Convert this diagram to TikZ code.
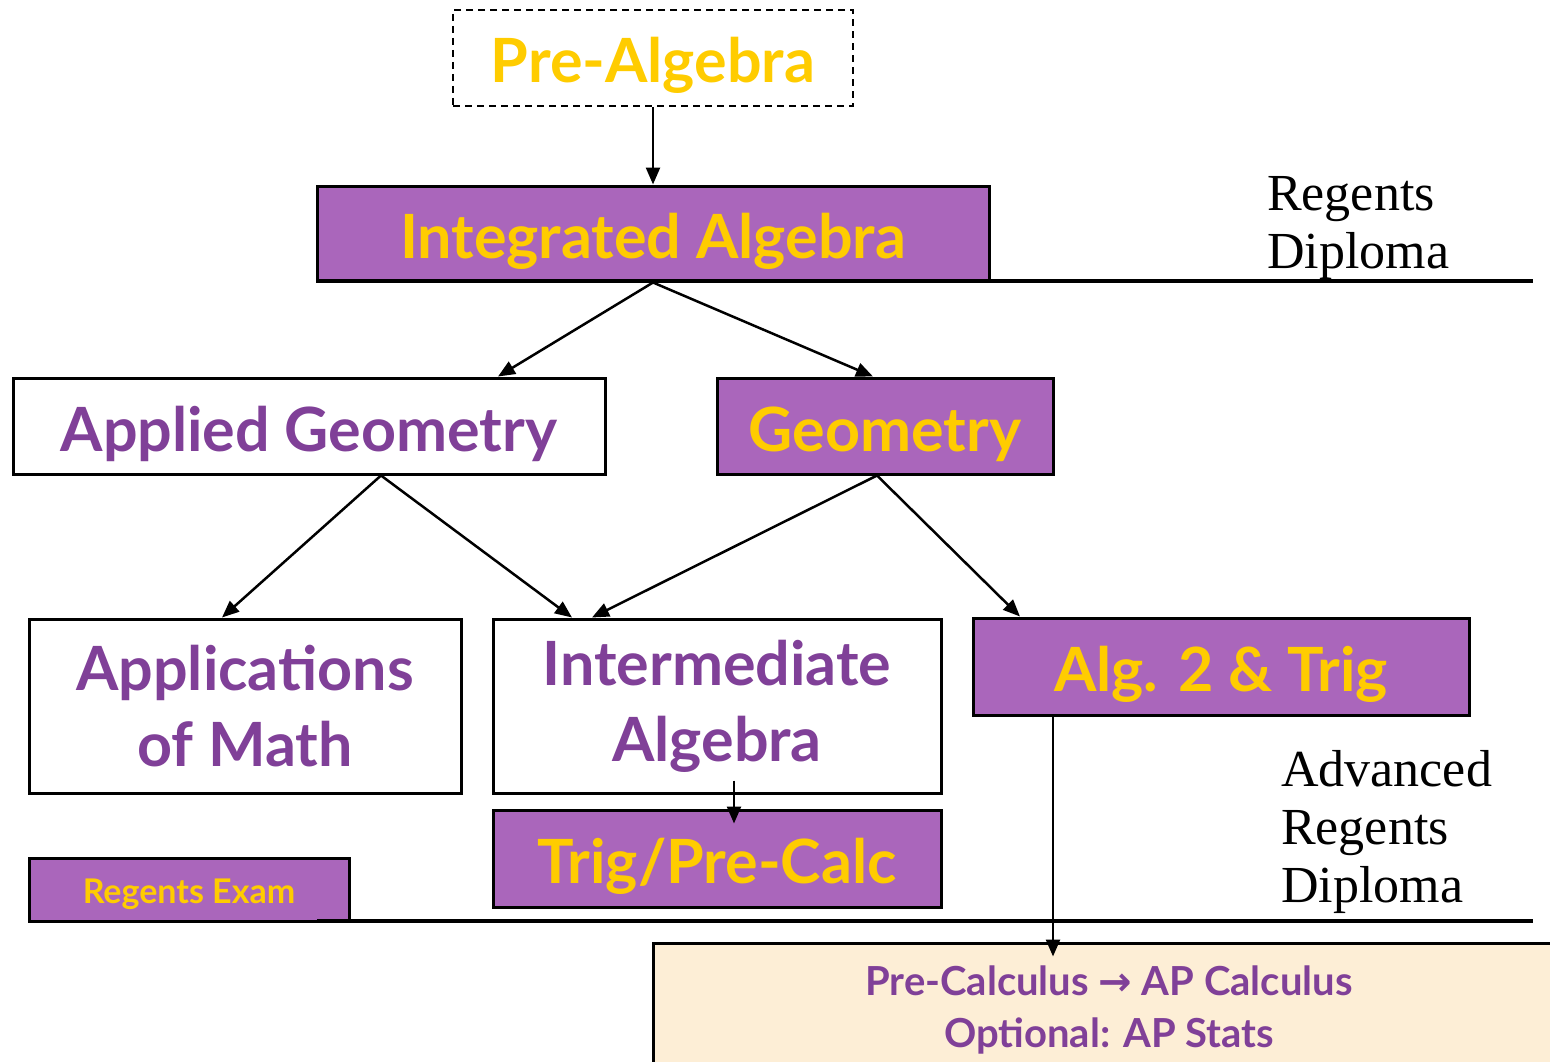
\documentclass[tikz,border=0pt]{standalone}
\usepackage{fontspec}
\setmainfont{Lato}
\newfontfamily\serifdip{Liberation Serif}
\newfontfamily\arrowfont{DejaVu Sans}
\usetikzlibrary{arrows.meta,calc}
\definecolor{boxpurple}{RGB}{170,102,187}
\definecolor{txtyellow}{RGB}{255,204,0}
\definecolor{txtpurple}{RGB}{128,64,152}
\definecolor{beige}{RGB}{253,238,214}
\begin{document}
\begin{tikzpicture}[x=1pt,y=-1pt,
  course/.style={draw=black,line width=3pt,font=\bfseries\fontsize{61}{76}\selectfont,align=center,inner sep=0pt},
  oneline/.style={text height=50pt,text depth=0pt},
  filled/.style={course,fill=boxpurple,text=txtyellow},
  open/.style={course,fill=white,text=txtpurple},
  link/.style={line width=2.5pt,-{Triangle[length=17pt,width=14pt]}},
  divider/.style={line width=4.5pt},
  diploma/.style={font=\serifdip\fontsize{52}{58}\selectfont,align=left,inner sep=0pt,anchor=north west}]
\useasboundingbox (0,0) rectangle (1550,1062);

% boxes
\node[course,oneline,dashed,dash pattern=on 7pt off 5pt,line width=2.5pt,text=txtyellow,minimum width=400pt,minimum height=96pt] (pre) at (653,58) {Pre-Algebra};
\node[filled,oneline,minimum width=672pt,minimum height=95pt] (ia) at (653,233.5) {Integrated Algebra};
\node[open,oneline,minimum width=592pt,minimum height=96pt] (ag) at (309,426) {Applied Geometry};
\node[filled,oneline,minimum width=336pt,minimum height=96pt] (geo) at (885,426) {Geometry};
\node[open,minimum width=432pt,minimum height=174pt] (aom) at (245,706) {Applications\\of Math};
\node[open,minimum width=448pt,minimum height=174pt] (inter) at (717,706) {Intermediate\\Algebra};
\node[filled,oneline,minimum width=496pt,minimum height=97pt] (alg2) at (1221,666.5) {Alg. 2 \& Trig};
\node[filled,oneline,minimum width=448pt,minimum height=97pt] (trig) at (717,858.5) {Trig/Pre-Calc};
\node[filled,font=\bfseries\fontsize{34}{42}\selectfont,text height=27pt,text depth=0pt,minimum width=320pt,minimum height=63pt] (rex) at (189,889.5) {Regents Exam};
\node[course,fill=beige,text=txtpurple,font=\bfseries\fontsize{40}{52}\selectfont,minimum width=912pt,minimum height=134pt] (ap) at (1109,1010) {Pre-Calculus {\arrowfont\bfseries →} AP Calculus\\Optional: AP Stats};

% dividers
\coordinate (d1a) at (317,281);
\coordinate (d1b) at (1533,281);
\coordinate (d2a) at (317,921);
\coordinate (d2b) at (1533,921);
\draw[divider] (d1a) -- (d1b);
\draw[divider] (d2a) -- (d2b);

% diploma labels
\node[diploma] (rd) at (1267,176) {Regents\\Diploma};
\node[diploma] (ard) at (1281,750) {Advanced\\Regents\\Diploma};

% connectors
\draw[link] (pre.south) -- (ia.north);
\draw[link] (ia.south) -- ([xshift=189pt]ag.north);
\draw[link] (ia.south) -- ([xshift=-12pt]geo.north);
\draw[link] ([xshift=72pt]ag.south) -- ([xshift=-23pt]aom.north);
\draw[link] ([xshift=72pt]ag.south) -- ([xshift=-145pt]inter.north);
\draw[link] ([xshift=-8pt]geo.south) -- ([xshift=-125pt]inter.north);
\draw[link] ([xshift=-8pt]geo.south) -- ([xshift=-201pt]alg2.north);
\draw[link] ([xshift=17pt,yshift=14pt]inter.south) -- ([xshift=17pt,yshift=-15pt]trig.north);
\draw[link] ([xshift=-168pt]alg2.south) -- ([xshift=-56pt,yshift=-15pt]ap.north);
\end{tikzpicture}
\end{document}
